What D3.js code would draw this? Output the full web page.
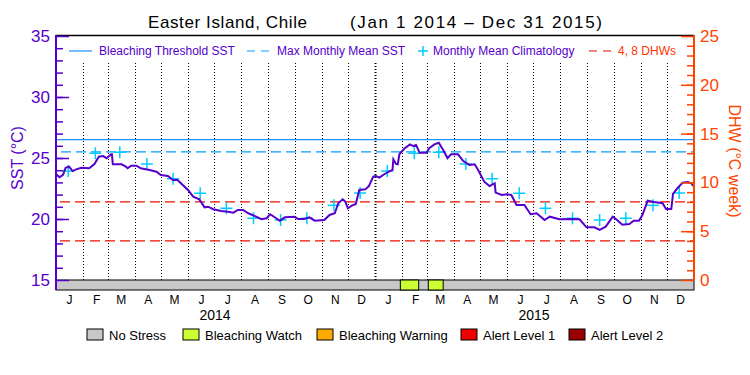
<!DOCTYPE html>
<html lang="en">
  <head>
    <meta charset="utf-8" />
    <title>Easter Island, Chile SST / DHW</title>
    <script src="https://cdnjs.cloudflare.com/ajax/libs/d3/7.8.5/d3.min.js"></script>
    <style type="text/css">
      body { margin: 0; background: #fff; }
      svg { font-family: "Liberation Sans", Arial, sans-serif; }
      .sst-axis text { fill: #5500cc; }
      .dhw-axis text { fill: #ff4400; }
    </style>
  </head>
  <body>
    <div id="chart"></div>
    <script>

      // Daily SST (date, degrees C)
      const sstObs = [
        ['2014-01-01', 23.69], ['2014-01-05', 23.42], ['2014-01-09', 23.61], ['2014-01-12', 24.20],
        ['2014-01-16', 24.29], ['2014-01-20', 23.93], ['2014-01-24', 24.07], ['2014-01-30', 24.20],
        ['2014-02-08', 24.16], ['2014-02-14', 24.51], ['2014-02-19', 25.11], ['2014-02-24', 25.16],
        ['2014-02-28', 24.98], ['2014-03-05', 25.30], ['2014-03-06', 25.30], ['2014-03-07', 24.48],
        ['2014-03-17', 24.48], ['2014-03-22', 24.29], ['2014-03-24', 24.16], ['2014-03-28', 24.37],
        ['2014-04-03', 24.37], ['2014-04-08', 24.16], ['2014-04-18', 24.02], ['2014-04-26', 23.88],
        ['2014-05-01', 23.61], ['2014-05-09', 23.52], ['2014-05-15', 23.20], ['2014-05-20', 23.20],
        ['2014-05-26', 22.79], ['2014-06-01', 22.38], ['2014-06-07', 21.83], ['2014-06-14', 21.61],
        ['2014-06-20', 20.96], ['2014-06-24', 21.01], ['2014-06-30', 20.80], ['2014-07-09', 20.66],
        ['2014-07-17', 20.60], ['2014-07-23', 20.52], ['2014-07-28', 20.74], ['2014-08-03', 20.74],
        ['2014-08-09', 20.47], ['2014-08-18', 20.19], ['2014-08-24', 19.98], ['2014-08-30', 20.06],
        ['2014-09-03', 20.39], ['2014-09-10', 20.06], ['2014-09-14', 19.86], ['2014-09-20', 20.14],
        ['2014-10-01', 20.19], ['2014-10-05', 20.00], ['2014-10-12', 20.00], ['2014-10-18', 20.14],
        ['2014-10-24', 19.86], ['2014-11-04', 19.92], ['2014-11-10', 20.33], ['2014-11-16', 20.47],
        ['2014-11-20', 21.29], ['2014-11-25', 21.61], ['2014-11-28', 21.42], ['2014-12-01', 20.88],
        ['2014-12-05', 21.07], ['2014-12-10', 21.23], ['2014-12-14', 22.38], ['2014-12-21', 22.43],
        ['2014-12-25', 22.70], ['2014-12-30', 23.47], ['2015-01-02', 23.52], ['2015-01-06', 23.39],
        ['2015-01-12', 23.69], ['2015-01-18', 23.93], ['2015-01-21', 24.02], ['2015-01-22', 24.89],
        ['2015-01-25', 24.51], ['2015-01-27', 24.48], ['2015-01-29', 25.33], ['2015-02-04', 25.80],
        ['2015-02-10', 26.12], ['2015-02-14', 25.98], ['2015-02-17', 26.07], ['2015-02-21', 25.43],
        ['2015-03-01', 25.43], ['2015-03-04', 25.80], ['2015-03-10', 26.12], ['2015-03-15', 26.25],
        ['2015-03-20', 25.66], ['2015-03-25', 24.98], ['2015-03-29', 25.30], ['2015-04-06', 25.30],
        ['2015-04-12', 24.75], ['2015-04-19', 24.43], ['2015-04-25', 24.48], ['2015-04-29', 24.02],
        ['2015-05-06', 23.06], ['2015-05-12', 22.70], ['2015-05-18', 22.93], ['2015-05-19', 22.16],
        ['2015-05-26', 21.97], ['2015-06-01', 22.02], ['2015-06-06', 21.97], ['2015-06-12', 21.15],
        ['2015-06-21', 21.15], ['2015-06-28', 20.39], ['2015-07-05', 20.47], ['2015-07-14', 19.92],
        ['2015-07-20', 20.19], ['2015-07-31', 19.98], ['2015-08-12', 20.00], ['2015-08-23', 19.98],
        ['2015-08-31', 19.32], ['2015-09-09', 19.32], ['2015-09-15', 19.10], ['2015-09-22', 19.37],
        ['2015-09-30', 20.19], ['2015-10-04', 19.98], ['2015-10-11', 19.53], ['2015-10-19', 19.59],
        ['2015-10-24', 19.86], ['2015-10-30', 19.86], ['2015-11-03', 20.33], ['2015-11-09', 21.50],
        ['2015-11-16', 21.39], ['2015-11-26', 21.29], ['2015-11-30', 20.82], ['2015-12-06', 20.82],
        ['2015-12-08', 22.05], ['2015-12-13', 22.52], ['2015-12-19', 22.98], ['2015-12-25', 23.03],
        ['2015-12-29', 22.93], ['2015-12-31', 22.70]
      ];

      // Monthly mean climatology, Jan..Dec
      const monthLetters = ['J', 'F', 'M', 'A', 'M', 'J', 'J', 'A', 'S', 'O', 'N', 'D'];
      const climatology = [23.93, 25.39, 25.47, 24.51, 23.30, 22.11, 20.88, 20.06, 19.92, 20.06, 21.12, 22.13];
      const years = [2014, 2015];

      const maxMonthlyMean = 25.5;
      const bleachingThreshold = 26.5;
      const dhwLevels = [4, 8];

      // Stress level strip: periods of Bleaching Watch, rest is No Stress
      const watchPeriods = [['2015-01-30', '2015-02-20'], ['2015-03-03', '2015-03-20']];

      const stressNames = ['No Stress', 'Bleaching Watch', 'Bleaching Warning', 'Alert Level 1', 'Alert Level 2'];
      const stressColors = ['#c8c8c8', '#ccff33', '#ffaa00', '#ee0000', '#990000'];

      const width = 750;
      const height = 375;
      const plot = { left: 56, right: 694, top: 35, bottom: 280, strip: 290 };
      const purple = '#5500cc';
      const orange = '#ff4400';

      const parse = d3.utcParse('%Y-%m-%d');

      const svg = d3.select('#chart').append('svg')
        .attr('width', width)
        .attr('height', height);

      const x = d3.scaleUtc()
        .domain([Date.UTC(2014, 0, 1), Date.UTC(2016, 0, 1)])
        .range([plot.left, plot.right]);
      const y = d3.scaleLinear().domain([15, 35]).range([plot.bottom, 36]);
      const yDhw = d3.scaleLinear().domain([0, 25]).range([plot.bottom, 36]);

      // Title (two parts, spaced like the original)
      svg.append('text').attr('x', 148).attr('y', 28)
        .attr('font-size', 17).attr('fill', '#000')
        .attr('textLength', 159).attr('lengthAdjust', 'spacing')
        .text('Easter Island, Chile');
      svg.append('text').attr('x', 350).attr('y', 28)
        .attr('font-size', 17).attr('fill', '#000')
        .attr('textLength', 252).attr('lengthAdjust', 'spacing')
        .text('(Jan 1 2014 \u2013 Dec 31 2015)');

      // Month boundaries (dotted)
      const monthStarts = d3.utcMonth.range(Date.UTC(2014, 1, 1), Date.UTC(2016, 0, 1));
      svg.append('g').selectAll('line')
        .data(monthStarts)
        .join('line')
        .attr('x1', d => Math.round(x(d)) + 0.5)
        .attr('x2', d => Math.round(x(d)) + 0.5)
        .attr('y1', 63)
        .attr('y2', plot.bottom)
        .attr('stroke', '#000')
        .attr('stroke-width', d => d.getUTCMonth() === 0 ? 2 : 1)
        .attr('stroke-dasharray', '1,2');

      // Reference lines
      svg.append('line')
        .attr('x1', plot.left).attr('x2', plot.right)
        .attr('y1', y(bleachingThreshold)).attr('y2', y(bleachingThreshold))
        .attr('stroke', '#1e90ff').attr('stroke-width', 1.2);
      svg.append('line')
        .attr('x1', plot.left + 5).attr('x2', plot.right)
        .attr('y1', y(maxMonthlyMean)).attr('y2', y(maxMonthlyMean))
        .attr('stroke', '#00a0ff').attr('stroke-width', 1.2)
        .attr('stroke-dasharray', '10,5');
      svg.append('g').selectAll('line')
        .data(dhwLevels)
        .join('line')
        .attr('x1', plot.left + 4).attr('x2', plot.right)
        .attr('y1', d => yDhw(d)).attr('y2', d => yDhw(d))
        .attr('stroke', '#ee1100').attr('stroke-width', 1.2)
        .attr('stroke-dasharray', '10,5');

      // Climatology crosses, mid-month of each year
      const climPoints = [];
      years.forEach(yr => climatology.forEach((v, m) => climPoints.push([Date.UTC(yr, m, 15), v])));
      const cross = svg.append('g').selectAll('g')
        .data(climPoints)
        .join('g')
        .attr('transform', d => `translate(${x(d[0])},${y(d[1])})`);
      cross.append('line').attr('x1', -6).attr('x2', 6).attr('y1', 0).attr('y2', 0);
      cross.append('line').attr('x1', 0).attr('x2', 0).attr('y1', -6).attr('y2', 6);
      cross.selectAll('line').attr('stroke', '#00ccff').attr('stroke-width', 1.5);

      // SST line
      const line = d3.line()
        .x(d => x(parse(d[0])))
        .y(d => y(d[1]));
      svg.append('path')
        .datum(sstObs)
        .attr('fill', 'none')
        .attr('stroke', purple)
        .attr('stroke-width', 2)
        .attr('d', line);

      // Stress strip
      svg.append('rect')
        .attr('x', plot.left).attr('y', plot.bottom)
        .attr('width', plot.right - plot.left).attr('height', plot.strip - plot.bottom)
        .attr('fill', stressColors[0]).attr('stroke', '#000');
      svg.append('g').selectAll('rect')
        .data(watchPeriods)
        .join('rect')
        .attr('x', d => x(parse(d[0])))
        .attr('y', plot.bottom)
        .attr('width', d => x(parse(d[1])) - x(parse(d[0])))
        .attr('height', plot.strip - plot.bottom)
        .attr('fill', stressColors[1]).attr('stroke', '#000');

      // Frame top
      svg.append('line')
        .attr('x1', plot.left).attr('x2', plot.right)
        .attr('y1', plot.top + 0.5).attr('y2', plot.top + 0.5)
        .attr('stroke', '#000').attr('stroke-width', 1.5);

      // Left SST axis
      svg.append('g')
        .attr('transform', `translate(${plot.left},0)`)
        .call(d3.axisLeft(y).tickValues(d3.range(16, 35)).tickSize(-7).tickFormat(''))
        .call(g => g.select('.domain').remove())
        .selectAll('line').attr('stroke', purple).attr('stroke-width', 1.5);
      const sstAxis = svg.append('g')
        .attr('class', 'sst-axis')
        .attr('transform', `translate(${plot.left},0)`)
        .call(d3.axisLeft(y).tickValues([15, 20, 25, 30, 35]).tickSize(-13).tickSizeOuter(0).tickPadding(6));
      sstAxis.select('.domain').remove();
      sstAxis.selectAll('line').attr('stroke', purple).attr('stroke-width', 1.5);
      sstAxis.selectAll('text').attr('font-size', 17).attr('font-family', '"Liberation Sans", sans-serif');
      svg.append('line')
        .attr('x1', plot.left).attr('x2', plot.left)
        .attr('y1', plot.top).attr('y2', plot.strip)
        .attr('stroke', purple).attr('stroke-width', 2);

      // Right DHW axis
      svg.append('g')
        .attr('transform', `translate(${plot.right},0)`)
        .call(d3.axisRight(yDhw).tickValues(d3.range(1, 25)).tickSize(-7).tickFormat(''))
        .call(g => g.select('.domain').remove())
        .selectAll('line').attr('stroke', orange).attr('stroke-width', 1.5);
      const dhwAxis = svg.append('g')
        .attr('class', 'dhw-axis')
        .attr('transform', `translate(${plot.right},0)`)
        .call(d3.axisRight(yDhw).tickValues([0, 5, 10, 15, 20, 25]).tickSize(-13).tickSizeOuter(0).tickPadding(6));
      dhwAxis.select('.domain').remove();
      dhwAxis.selectAll('line').attr('stroke', orange).attr('stroke-width', 1.5);
      dhwAxis.selectAll('text').attr('font-size', 17).attr('font-family', '"Liberation Sans", sans-serif');
      svg.append('line')
        .attr('x1', plot.right).attr('x2', plot.right)
        .attr('y1', plot.top).attr('y2', plot.bottom)
        .attr('stroke', orange).attr('stroke-width', 2);

      // Axis titles
      svg.append('text')
        .attr('transform', 'translate(23,158) rotate(-90)')
        .attr('text-anchor', 'middle')
        .attr('font-size', 16).attr('fill', purple)
        .text('SST (\u00b0C)');
      svg.append('text')
        .attr('transform', 'translate(729,161) rotate(90)')
        .attr('text-anchor', 'middle')
        .attr('font-size', 16).attr('fill', orange)
        .text('DHW (\u00b0C week)');

      // Month letters and years
      const monthMids = d3.utcMonth.range(Date.UTC(2014, 0, 1), Date.UTC(2016, 0, 1))
        .map(d => new Date(Date.UTC(d.getUTCFullYear(), d.getUTCMonth(), 16)));
      svg.append('g')
        .attr('transform', `translate(0,${plot.strip})`)
        .call(d3.axisBottom(x).tickValues(monthMids).tickSize(0).tickPadding(5)
          .tickFormat(d => monthLetters[d.getUTCMonth()]))
        .call(g => g.select('.domain').remove())
        .selectAll('text')
        .attr('font-size', 12).attr('fill', '#000')
        .attr('font-family', '"Liberation Sans", sans-serif');
      svg.append('g').selectAll('text')
        .data(years)
        .join('text')
        .attr('x', d => x(Date.UTC(d, 6, 2)))
        .attr('y', 320)
        .attr('text-anchor', 'middle')
        .attr('font-size', 14).attr('fill', '#000')
        .text(d => d);

      // Top legend
      const topLegend = svg.append('g').attr('font-size', 12);
      topLegend.append('line').attr('x1', 69).attr('x2', 92).attr('y1', 51).attr('y2', 51)
        .attr('stroke', '#1e90ff').attr('stroke-width', 1.2);
      topLegend.append('text').attr('x', 99).attr('y', 55).attr('fill', purple).text('Bleaching Threshold SST');
      topLegend.append('line').attr('x1', 247).attr('x2', 270).attr('y1', 51).attr('y2', 51)
        .attr('stroke', '#00a0ff').attr('stroke-width', 1.2).attr('stroke-dasharray', '8,6');
      topLegend.append('text').attr('x', 277).attr('y', 55).attr('fill', purple).text('Max Monthly Mean SST');
      topLegend.append('line').attr('x1', 418).attr('x2', 428).attr('y1', 51).attr('y2', 51)
        .attr('stroke', '#00ccff').attr('stroke-width', 1.5);
      topLegend.append('line').attr('x1', 423).attr('x2', 423).attr('y1', 46).attr('y2', 56)
        .attr('stroke', '#00ccff').attr('stroke-width', 1.5);
      topLegend.append('text').attr('x', 433).attr('y', 55).attr('fill', purple).text('Monthly Mean Climatology');
      topLegend.append('line').attr('x1', 589).attr('x2', 612).attr('y1', 51).attr('y2', 51)
        .attr('stroke', '#ee1100').attr('stroke-width', 1.2).attr('stroke-dasharray', '8,6');
      topLegend.append('text').attr('x', 618).attr('y', 55).attr('fill', '#ff3300').text('4, 8 DHWs');

      // Bottom legend
      const boxX = [87, 183, 317, 461, 569];
      const bottomLegend = svg.append('g').selectAll('g')
        .data(stressNames)
        .join('g')
        .attr('transform', (d, i) => `translate(${boxX[i]},329)`);
      bottomLegend.append('rect')
        .attr('width', 16).attr('height', 11)
        .attr('fill', (d, i) => stressColors[i]).attr('stroke', '#000');
      bottomLegend.append('text')
        .attr('x', 22).attr('y', 11)
        .attr('font-size', 13).attr('fill', '#000')
        .text(d => d);

    </script>
  </body>
</html>
